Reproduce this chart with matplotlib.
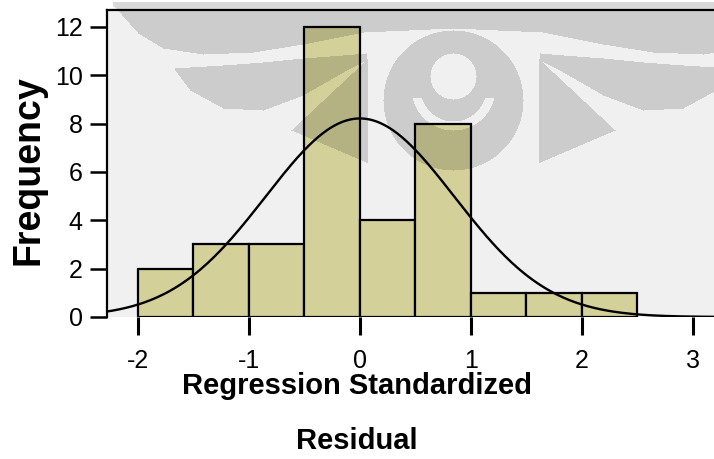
import numpy as np
import matplotlib
matplotlib.use("Agg")
import matplotlib.pyplot as plt

# --- data ---
bin_edges = [-2.0, -1.5, -1.0, -0.5, 0.0, 0.5, 1.0, 1.5, 2.0, 2.5]
counts = [2, 3, 3, 12, 4, 8, 1, 1, 1]
resid_mean = 0.0
resid_std = 0.85
x_ticks = [-2, -1, 0, 1, 2, 3]
y_ticks = [0, 2, 4, 6, 8, 10, 12]

W, H = 714, 459
plt.rcParams['font.family'] = ['Liberation Sans', 'DejaVu Sans']

fig = plt.figure(figsize=(W / 100, H / 100), dpi=100)
fig.patch.set_facecolor('white')

# axes box in pixels: left 107, top 10, bottom 317, right edge of picture
ax = fig.add_axes([107 / W, (H - 317) / H, (W - 107) / W, (317 - 10) / H])
ax.set_facecolor('#f0f0f0')

edges = np.array(bin_edges)
widths = np.diff(edges)
ax.bar(edges[:-1], counts, width=widths, align='edge',
       color='#d4d09a', edgecolor='black', linewidth=1.6, zorder=2)

# normal curve scaled to counts
n_total = sum(counts)
xs = np.linspace(-2.3, 3.3, 400)
pdf = np.exp(-0.5 * ((xs - resid_mean) / resid_std) ** 2) / (resid_std * np.sqrt(2 * np.pi))
ax.plot(xs, n_total * widths[0] * pdf, color='black', lw=1.7, zorder=3)

ax.set_xlim(-2.279, 3.19)
ax.set_ylim(0, 12.7)
ax.set_xticks(x_ticks)
ax.set_xticklabels([str(v) for v in x_ticks])
ax.set_yticks(y_ticks)
ax.set_yticklabels([str(v) for v in y_ticks])

for side in ['bottom', 'right']:
    ax.spines[side].set_visible(False)
for side in ['left', 'top']:
    ax.spines[side].set_linewidth(1.6)
    ax.spines[side].set_color('black')

ax.tick_params(axis='y', direction='out', length=12.5, width=1.8, pad=5, labelsize=18)
ax.tick_params(axis='x', direction='out', length=13, width=2.2, pad=10, labelsize=18)

fig.text(29 / W, 1 - 170 / H, 'Frequency', rotation=90, ha='center', va='center',
         fontsize=27, fontweight='bold')
fig.text(357 / W, 1 - 394 / H, 'Regression Standardized', ha='center', va='baseline',
         fontsize=21, fontweight='bold')
fig.text(357 / W, 1 - 449 / H, 'Residual', ha='center', va='baseline',
         fontsize=21, fontweight='bold')

# faint background emblem (watermark), built as a pixel mask, mirror-symmetric
yy, xx = np.mgrid[0:H, 0:W].astype(float)
cx = 453.0
d = np.abs(xx - cx)
mask = np.zeros((H, W), dtype=bool)

# upper sweeping band
top_d = [0, 90, 150, 200, 250, 290, 315, 340]
top_y = [28, 32, 44, 52, 54, 48, 33, 5]
mask |= (d <= 340) & (yy >= 2) & (yy <= np.interp(d, top_d, top_y))

# second band
b_d = [87, 110, 150, 190, 230, 263, 278]
b_top = [53, 55, 58, 62, 65, 67, 68]
b_bot = [60, 72, 95, 110, 108, 90, 70]
mask |= (d >= 87) & (d <= 278) & (yy >= np.interp(d, b_d, b_top)) & (yy <= np.interp(d, b_d, b_bot))

# pointed wings
t_top = 58 + (d - 85) * (130 - 58) / (162 - 85)
t_bot = 162 - (d - 87) * (162 - 130) / (162 - 87)
mask |= (d >= 86) & (d <= 162) & (yy >= t_top) & (yy <= t_bot)

# central ring with hole and light crescent
ring = (xx - cx) ** 2 + (yy - 100) ** 2 <= 70 ** 2
hole = (xx - cx) ** 2 + (yy - 76) ** 2 <= 23 ** 2
rr = np.sqrt((xx - cx) ** 2 + (yy - 88) ** 2)
cres = (rr >= 33) & (rr <= 42) & (yy >= 98)
mask |= ring & ~hole & ~cres

rgba = np.zeros((H, W, 4))
rgba[..., 3] = np.where(mask, 0.15, 0.0)
fig.figimage(rgba, xo=0, yo=0, origin='upper', zorder=5)

fig.savefig('out.png', dpi=100)
